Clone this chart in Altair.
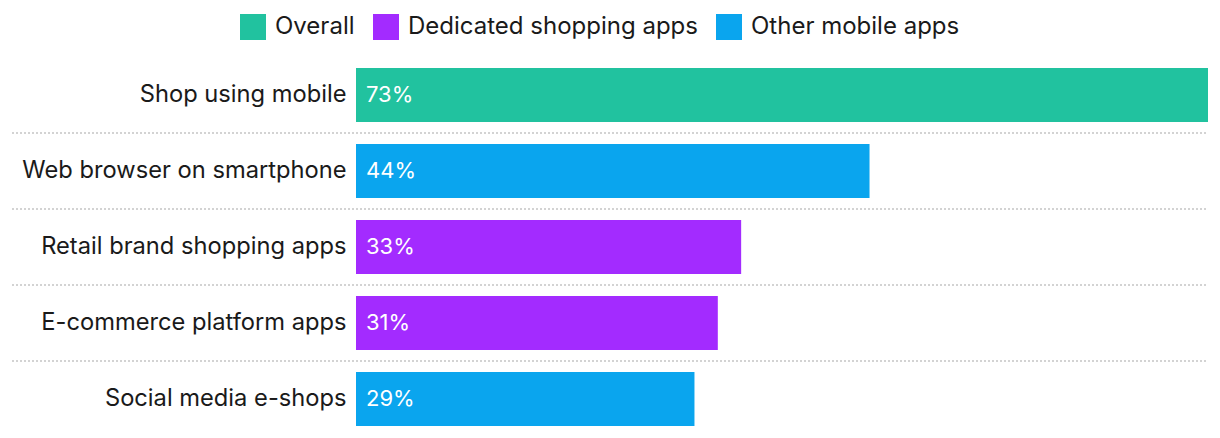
import altair as alt
import pandas as pd

categories = ["Shop using mobile", "Web browser on smartphone", "Retail brand shopping apps",
              "E-commerce platform apps", "Social media e-shops"]
values = [73, 44, 33, 31, 29]
groups = ["Overall", "Other mobile apps", "Dedicated shopping apps",
          "Dedicated shopping apps", "Other mobile apps"]
legend_order = ["Overall", "Dedicated shopping apps", "Other mobile apps"]
colors = ["#21C29F", "#A32BFF", "#0AA5EE"]

df = pd.DataFrame({"cat": categories, "val": values, "grp": groups})
df["label"] = [f"{v}%" for v in values]
sep = pd.DataFrame({"cat": categories[1:]})

FONT = "Inter"

yenc = alt.Y("cat:N", sort=categories,
             scale=alt.Scale(paddingInner=0, paddingOuter=0),
             axis=alt.Axis(title=None, ticks=False, domain=False, labelFontSize=23.7,
                           labelColor="#1a1a1a", labelPadding=10, labelLimit=400,
                           labelFont=FONT, grid=False))
xenc = alt.X("val:Q", scale=alt.Scale(domain=[0, 73], nice=False, zero=True), axis=None)

bars = alt.Chart(df).mark_bar(size=54).encode(
    x=xenc,
    y=yenc,
    color=alt.Color("grp:N", scale=alt.Scale(domain=legend_order, range=colors),
                    legend=alt.Legend(title=None, orient="none", direction="horizontal",
                                      legendX=-116, legendY=-43, symbolType="square",
                                      symbolSize=676, symbolStrokeWidth=0, labelFontSize=24,
                                      labelFont=FONT, labelColor="#1a1a1a", columnPadding=18,
                                      labelOffset=9, padding=0, labelLimit=500)),
)

text = alt.Chart(df).mark_text(align="left", baseline="middle", color="white",
                               fontSize=22, font=FONT).encode(
    x=alt.value(10),
    y=alt.Y("cat:N", sort=categories),
    text="label:N",
)

rules = alt.Chart(sep).mark_rule(color="#d3d3d3", strokeWidth=2, strokeDash=[2, 2]).encode(
    y=alt.Y("cat:N", sort=categories, bandPosition=0),
    x=alt.value(-344),
    x2=alt.value(852),
)

chart = alt.layer(rules, bars, text).properties(
    width=852, height=380,
    padding={"left": 356, "top": 57, "right": 12, "bottom": 1},
    autosize=alt.AutoSizeParams(type="none"),
).configure_view(stroke=None)

chart.save("out.html", embed_options={"renderer": "svg", "actions": False})
